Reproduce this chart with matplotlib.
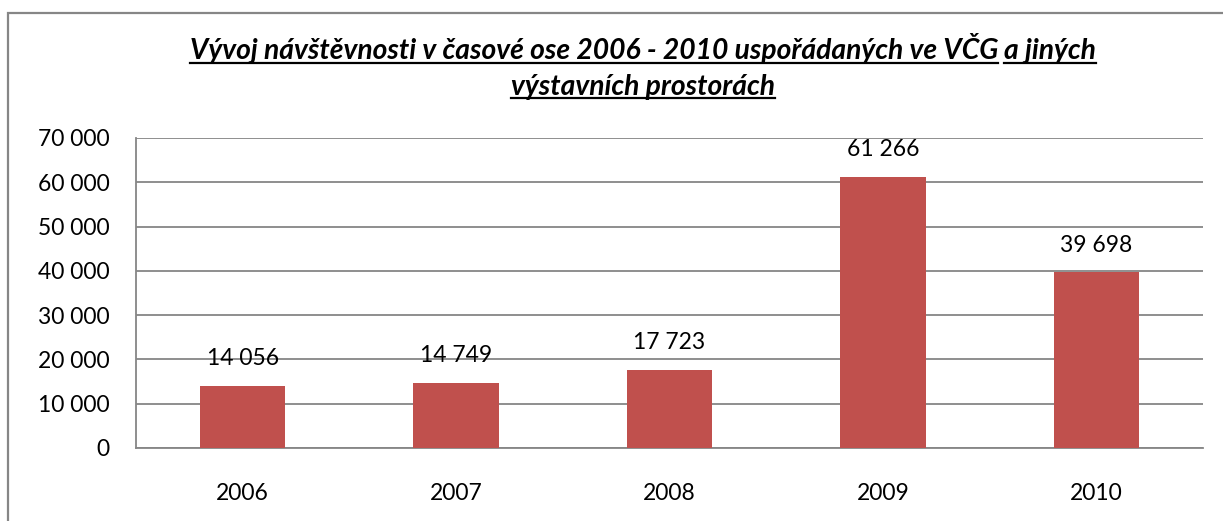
import matplotlib
matplotlib.use("Agg")
import matplotlib.pyplot as plt
from matplotlib.patches import Rectangle
from matplotlib.lines import Line2D

years = ["2006", "2007", "2008", "2009", "2010"]
visitors = [14056, 14749, 17723, 61266, 39698]
yticks = [0, 10000, 20000, 30000, 40000, 50000, 60000, 70000]
title_part1 = "Vývoj návštěvnosti v časové ose 2006 - 2010 uspořádaných ve VČG"
title_part2 = "a jiných"
title_line2 = "výstavních prostorách"

FONT = ["Lato", "DejaVu Sans"]
plt.rcParams['font.family'] = FONT

W, H = 1223, 521
fig = plt.figure(figsize=(W / 100, H / 100), dpi=100)
ax = fig.add_axes([136 / W, 1 - 448 / H, (1203 - 136) / W, (448 - 138) / H])

fs = 16.5
x = list(range(len(years)))
ax.bar(x, visitors, width=0.4, color="#C0504D", zorder=3)
ax.set_xlim(-0.5, len(years) - 0.5)
ax.set_ylim(0, 70000)
ax.set_yticks(yticks)
ax.set_yticklabels([f"{v:,}".replace(",", " ") for v in yticks], fontsize=fs)
ax.set_xticks(x)
ax.set_xticklabels(years, fontsize=fs)
ax.tick_params(axis="both", length=0)
ax.tick_params(axis="y", pad=19)
ax.tick_params(axis="x", pad=25)
ax.grid(axis="y", color="#868686", linewidth=1.3, zorder=0)
for side in ["top", "right"]:
    ax.spines[side].set_visible(False)
for side in ["left", "bottom"]:
    ax.spines[side].set_color("#868686")
    ax.spines[side].set_linewidth(1.3)

for xi, v in zip(x, visitors):
    ax.annotate(f"{v:,}".replace(",", " "), (xi, v), xytext=(0, 12),
                textcoords="offset points", ha="center", va="bottom", fontsize=fs)

# outer frame
fig.patches.append(Rectangle((8 / W, -0.1), 1.2, 1 - 13 / H + 0.1, transform=fig.transFigure,
                             fill=False, edgecolor="#868686", linewidth=1.6))

# title with underline
renderer = fig.canvas.get_renderer()
y1 = 1 - 59 / H
y2 = 1 - 95 / H
kw = dict(fontweight="bold", fontstyle="italic", va="baseline")


def measure(s, size):
    t = fig.text(0, 0, s, fontsize=size, **kw)
    w = t.get_window_extent(renderer).width
    t.remove()
    return w


base = 20.0
wfull = measure(title_part1 + " " + title_part2, base)
tfs = base * 907 / wfull
w1 = measure(title_part1, tfs)
w2 = measure(title_part2, tfs)
wsp = measure("a a", tfs) - measure("aa", tfs)
total = w1 + wsp + w2
cx = 643
start = cx - total / 2
fig.text(start / W, y1, title_part1, fontsize=tfs, **kw)
fig.text((start + w1 + wsp) / W, y1, title_part2, fontsize=tfs, **kw)
w3 = measure(title_line2, tfs)
fig.text(cx / W, y2, title_line2, fontsize=tfs, ha="center", **kw)
ul = 3.5 / H
for x0, w, yy in [(start, w1, y1), (start + w1 + wsp, w2, y1), (cx - w3 / 2, w3, y2)]:
    fig.lines.append(Line2D([x0 / W, (x0 + w) / W], [yy - ul, yy - ul], transform=fig.transFigure,
                            color="black", linewidth=1.6))

fig.savefig("out.png", dpi=100)
